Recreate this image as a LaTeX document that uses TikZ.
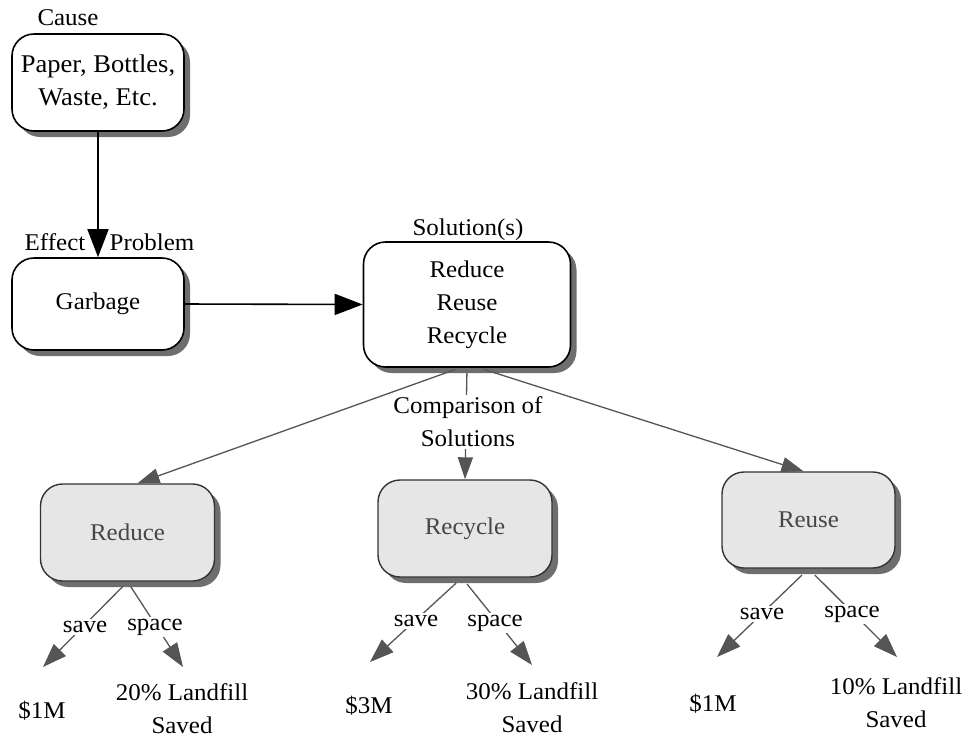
\documentclass[tikz,border=0pt]{standalone}
\usepackage{fontspec}
\setmainfont{Liberation Serif}[FakeStretch=1.04]
\usetikzlibrary{arrows.meta,shadows}
\definecolor{shadowgray}{HTML}{6E6E6E}
\definecolor{linegray}{HTML}{555555}
\definecolor{boxgray}{HTML}{E6E6E6}
\definecolor{txtgray}{HTML}{464646}
\begin{document}
\begin{tikzpicture}[x=1pt,y=-1pt,
  every node/.style={font=\fontsize{24}{33}\selectfont, inner sep=1pt},
  topbox/.style={draw=black, line width=1.6pt, fill=white, rounded corners=22pt, align=center,
    drop shadow={shadow xshift=6pt, shadow yshift=-6pt, fill=shadowgray, opacity=1}},
  lowbox/.style={draw=black!80, line width=1.4pt, fill=boxgray, rounded corners=22pt, align=center,
    text=txtgray, minimum width=174pt, minimum height=97pt,
    drop shadow={shadow xshift=6pt, shadow yshift=-6pt, fill=shadowgray, opacity=1}},
  blackarrow/.style={line width=1.6pt, -{Triangle[length=28pt,width=21pt]}},
  grayarrow/.style={draw=linegray, line width=1.3pt, -{Triangle[length=22pt,width=15pt]}, color=linegray},
  subarrow/.style={draw=linegray, line width=1.3pt, -{Triangle[length=24pt,width=17pt]}, color=linegray},
  lbl/.style={fill=white, inner sep=2pt, align=center},
  res/.style={align=center}]
\useasboundingbox (0,0) rectangle (963,740);

% main boxes
\node[topbox, minimum width=172pt, minimum height=97pt] (paper) at (98,82.5) {\fontsize{25.5}{33}\selectfont Paper, Bottles,\\\fontsize{25.5}{33}\selectfont Waste, Etc.};
\node[topbox, minimum width=172pt, minimum height=92pt] (garbage) at (98,304) {Garbage};
\node[topbox, minimum width=207pt, minimum height=125pt] (sol) at (467,304.5) {Reduce\\Reuse\\Recycle};

\node[lowbox] (reduce) at (127.5,532.5) {Reduce};
\node[lowbox] (recycle) at (465,528.5) {Recycle};
\node[lowbox, minimum width=173pt, minimum height=96pt] (reuse) at (808.5,520) {Reuse};

% labels on top
\node (cause) at (68,18) {Cause};
\node (effect) at (55,242) {Effect};
\node (problem) at (152,242) {Problem};
\node (solt) at (468,230) {Solution(s)};

% black connectors
\draw[blackarrow] (paper.south) -- (garbage.north);
\draw[blackarrow] (garbage.east) -- (sol.west);

% comparison connectors
\draw[grayarrow, shorten <=5pt] ([xshift=-7pt]sol.south) -- ([xshift=10pt]reduce.north);
\draw[grayarrow, shorten <=5pt] (sol.south) -- (recycle.north);
\draw[grayarrow, shorten <=5pt] ([xshift=12pt]sol.south) -- ([xshift=-5pt]reuse.north);
\node[lbl] (cmp) at (468,422) {Comparison of\\Solutions};

% tips of the result arrows
\coordinate (t1) at (43,667);
\coordinate (t2) at (183,667);
\coordinate (t3) at (370,662);
\coordinate (t4) at (532,665);
\coordinate (t5) at (717,657);
\coordinate (t6) at (897,657);

\draw[subarrow, shorten <=6pt] (reduce.south) -- (t1);
\draw[subarrow, shorten <=6pt] (reduce.south) -- (t2);
\draw[subarrow, shorten <=8pt] ([xshift=-3pt]recycle.south) -- (t3);
\draw[subarrow, shorten <=8pt] ([xshift=-3pt]recycle.south) -- (t4);
\draw[subarrow, shorten <=9pt] (reuse.south) -- (t5);
\draw[subarrow, shorten <=9pt] (reuse.south) -- (t6);

\node[lbl] (s1) at (85,627) {save};
\node[lbl] (p1) at (155,627) {space};
\node[lbl] (s2) at (416,621) {save};
\node[lbl] (p2) at (495,623) {space};
\node[lbl] (s3) at (762,614) {save};
\node[lbl] (p3) at (852,614) {space};

% results
\node[res] (r1) at (42,711) {\$1M};
\node[res] (r2) at (182,709) {20\% Landfill\\Saved};
\node[res] (r3) at (369,706) {\$3M};
\node[res] (r4) at (532,708) {30\% Landfill\\Saved};
\node[res] (r5) at (713,704) {\$1M};
\node[res] (r6) at (896,703) {10\% Landfill\\Saved};
\end{tikzpicture}
\end{document}
